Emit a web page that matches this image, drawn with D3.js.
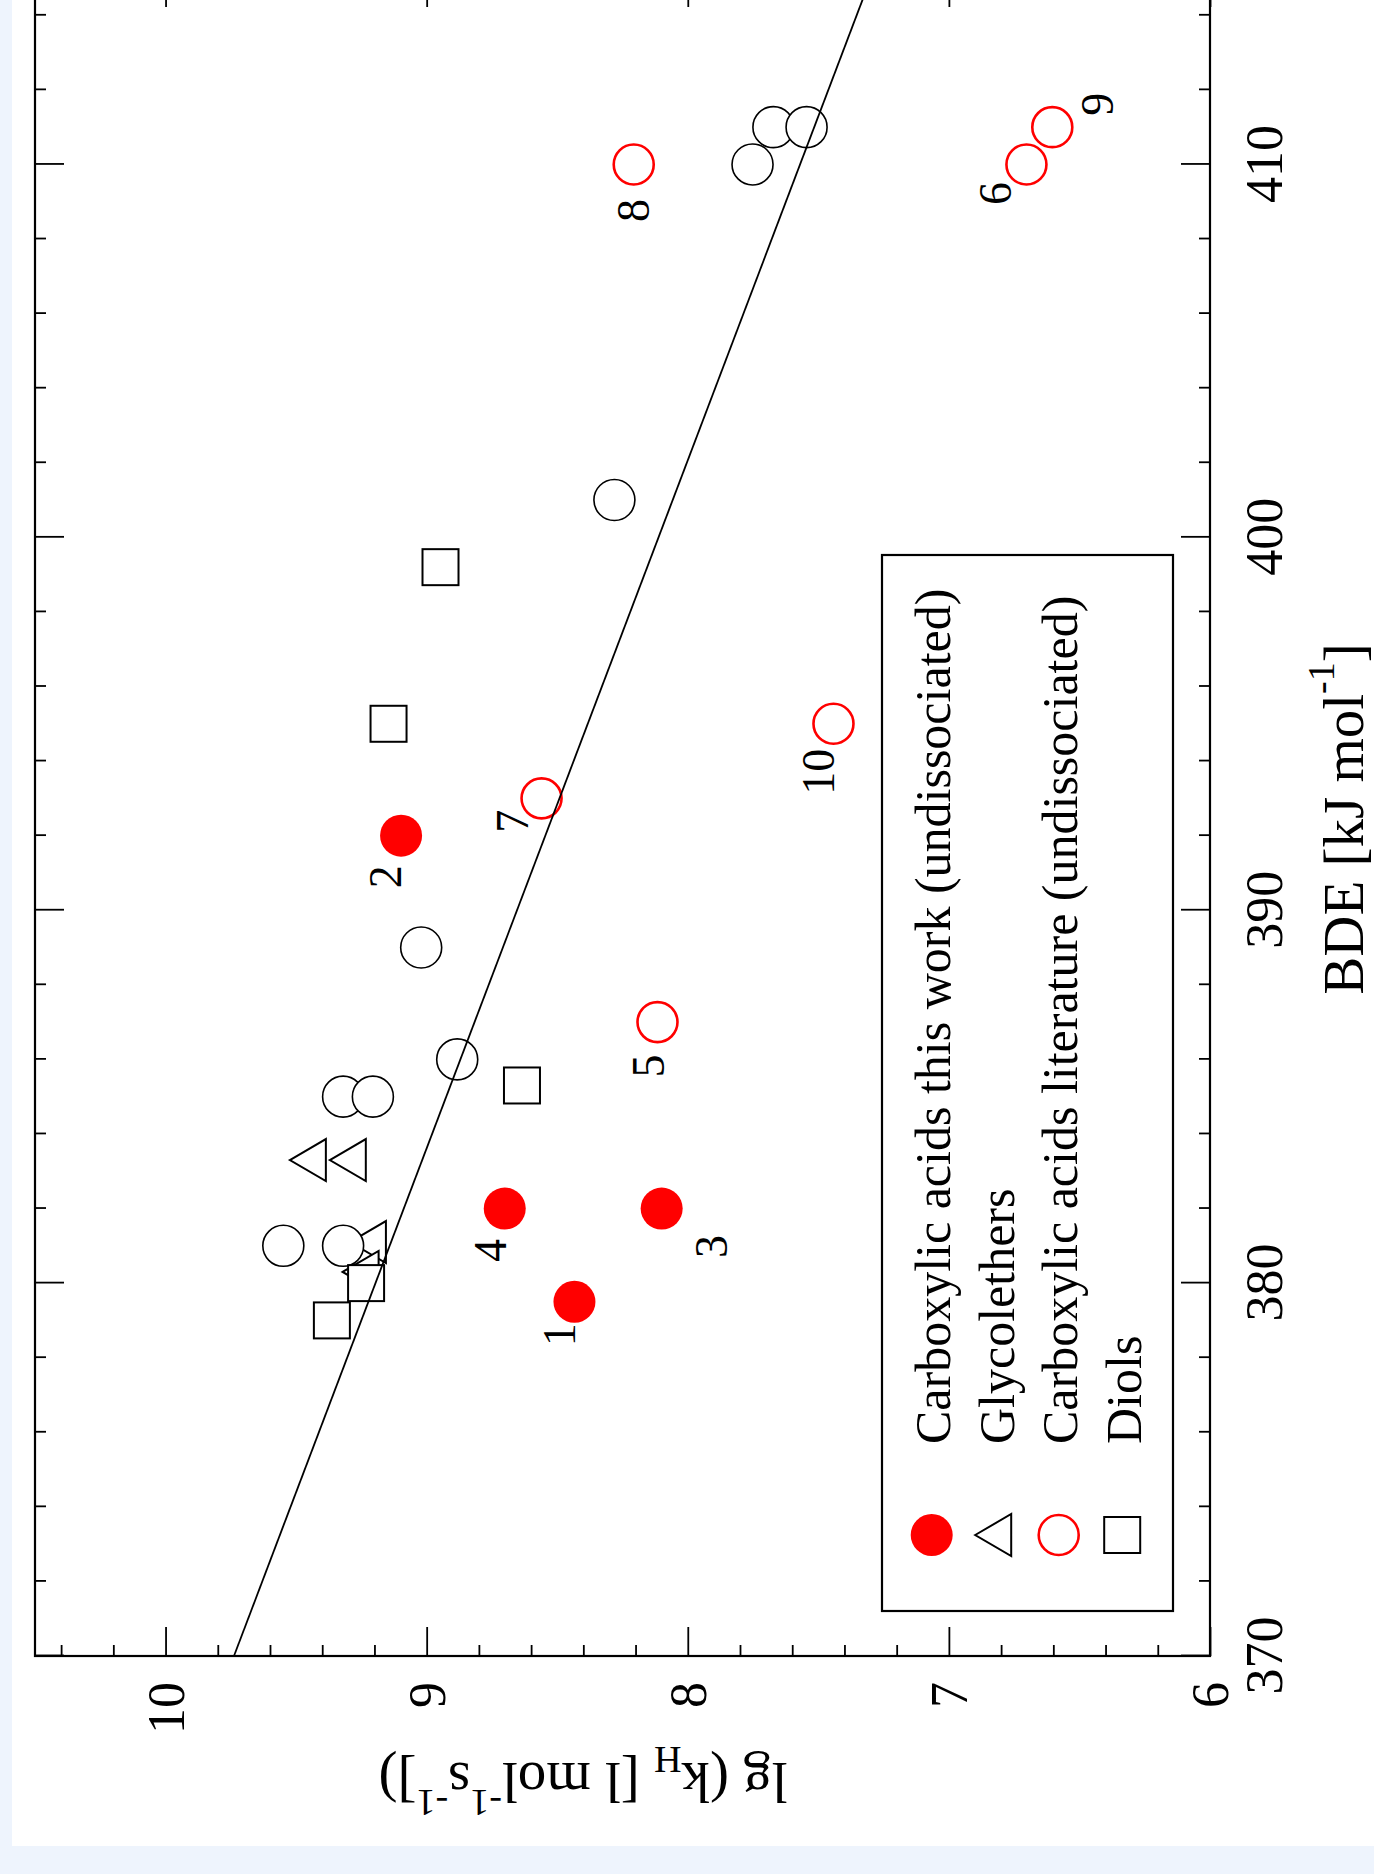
<!DOCTYPE html>
<html><head><meta charset="utf-8">
<script src="https://cdn.jsdelivr.net/npm/d3@7"></script>
<style>
html,body{margin:0;padding:0;background:#eef4fd;}
svg{display:block;}
</style></head><body>
<svg id="chart" width="1374" height="1874"></svg>
<script>
// ---------- data ----------
const legendNames = ["Carboxylic acids this work (undissociated)", "Glycolethers", "Carboxylic acids literature (undissociated)", "Diols"];

const workLabels = ["1", "2", "3", "4"];
const workBDE    = [379.5, 392.0, 382.0, 382.0];
const workLg     = [8.434, 9.098, 8.100, 8.701];

const litLabels  = ["5", "6", "7", "8", "9", "10"];
const litBDE     = [387.0, 410.0, 393.0, 410.0, 411.0, 395.0];
const litLg      = [8.116, 6.703, 8.560, 8.207, 6.604, 7.442];

const glycolBDE  = [383.3, 383.3, 381.1, 380.3];
const glycolLg   = [9.455, 9.302, 9.225, 9.253];

const diolBDE    = [380.0, 379.0, 385.3, 395.0, 399.2];
const diolLg     = [9.232, 9.363, 8.635, 9.146, 8.947];

const otherBDE   = [381.0, 381.0, 385.0, 385.0, 386.0, 389.0, 401.0, 410.0, 411.0, 411.0];
const otherLg    = [9.549, 9.320, 9.320, 9.206, 8.883, 9.021, 8.281, 7.752, 7.672, 7.545];

const fitBDE     = [370, 415];
const fitLg      = [9.738, 7.299];

const bdeMajor   = [370, 380, 390, 400, 410];
const bdeMinor   = [372, 374, 376, 378, 382, 384, 386, 388, 392, 394, 396, 398, 402, 404, 406, 408, 412, 414];
const lgMajor    = [10, 9, 8, 7, 6];
const lgMinor    = [10.4, 10.2, 9.8, 9.6, 9.4, 9.2, 8.8, 8.6, 8.4, 8.2, 7.8, 7.6, 7.4, 7.2, 6.8, 6.6, 6.4, 6.2];

// label placement (pixel offsets from the point, layout only)
const labelOffset = {"1":[-33,-15],"2":[-41,-16],"3":[-38,50],"4":[-42,-14],"5":[-44,-9],
                     "6":[-29,-31],"7":[-23,-29],"8":[-46,0],"9":[23,45],"10":[-48,-15]};

// ---------- layout ----------
const FONT = '"Liberation Serif","Times New Roman",serif';
const W = 1374, H = 1874;
const svg = d3.select("#chart");
svg.append("rect").attr("width", W).attr("height", H).attr("fill", "#eef4fd");
svg.append("rect").attr("x", 12).attr("y", 0).attr("width", W - 12).attr("height", 1846).attr("fill", "#ffffff");

const plotW = 1678, plotH = 1175;
// whole chart is drawn in normal orientation, then rotated -90°
const g = svg.append("g").attr("transform", "translate(35,1656) rotate(-90)");

const x = d3.scaleLinear().domain([370, 415]).range([0, plotW]);
const y = d3.scaleLinear().domain([10.5, 6]).range([0, plotH]);

function styleAxis(sel, fs) {
  sel.attr("font-family", FONT).attr("font-size", fs);
  sel.select(".domain").remove();
  sel.selectAll(".tick line").attr("stroke", "#000").attr("stroke-width", 1.8);
  sel.selectAll(".tick text").attr("fill", "#000");
}

// bottom (BDE) axis
const xb = g.append("g").attr("transform", `translate(0,${plotH})`)
  .call(d3.axisBottom(x).tickValues(bdeMajor).tickSize(-29).tickSizeOuter(0).tickPadding(35).tickFormat(d3.format("d")));
styleAxis(xb, 52);
const xbm = g.append("g").attr("transform", `translate(0,${plotH})`)
  .call(d3.axisBottom(x).tickValues(bdeMinor).tickSize(-11).tickSizeOuter(0).tickFormat(""));
styleAxis(xbm, 52);
// top axis (ticks only)
styleAxis(g.append("g").call(d3.axisTop(x).tickValues(bdeMajor).tickSize(-29).tickSizeOuter(0).tickFormat("")), 52);
styleAxis(g.append("g").call(d3.axisTop(x).tickValues(bdeMinor).tickSize(-11).tickSizeOuter(0).tickFormat("")), 52);

// left (lg) axis
const yl = g.append("g")
  .call(d3.axisLeft(y).tickValues(lgMajor).tickSize(-29).tickSizeOuter(0).tickPadding(26).tickFormat(d3.format("d")));
styleAxis(yl, 52);
yl.selectAll(".tick text").attr("dy", "0.34em");
styleAxis(g.append("g").call(d3.axisLeft(y).tickValues(lgMinor).tickSize(-11).tickSizeOuter(0).tickFormat("")), 52);
// right axis (ticks only)
styleAxis(g.append("g").attr("transform", `translate(${plotW},0)`)
  .call(d3.axisRight(y).tickValues(lgMajor).tickSize(-29).tickSizeOuter(0).tickFormat("")), 52);
styleAxis(g.append("g").attr("transform", `translate(${plotW},0)`)
  .call(d3.axisRight(y).tickValues(lgMinor).tickSize(-11).tickSizeOuter(0).tickFormat("")), 52);

// ---------- markers ----------
const triPath = "M0,-18L21,18L-21,18Z";
const R = 20.5, SQ = 36;

const glycol = glycolBDE.map((b, i) => ({bde: b, lg: glycolLg[i]}));
const diols  = diolBDE.map((b, i) => ({bde: b, lg: diolLg[i]}));
const other  = otherBDE.map((b, i) => ({bde: b, lg: otherLg[i]}));
const lit    = litBDE.map((b, i) => ({bde: b, lg: litLg[i], label: litLabels[i]}));
const work   = workBDE.map((b, i) => ({bde: b, lg: workLg[i], label: workLabels[i]}));

g.append("g").selectAll("path").data(glycol).join("path")
  .attr("d", triPath).attr("transform", d => `translate(${x(d.bde)},${y(d.lg)})`)
  .attr("fill", "#fff").attr("stroke", "#000").attr("stroke-width", 2);

g.append("g").selectAll("circle").data(other).join("circle")
  .attr("cx", d => x(d.bde)).attr("cy", d => y(d.lg)).attr("r", R)
  .attr("fill", "#fff").attr("stroke", "#000").attr("stroke-width", 1.6);

g.append("g").selectAll("rect").data(diols).join("rect")
  .attr("x", d => x(d.bde) - SQ / 2).attr("y", d => y(d.lg) - SQ / 2)
  .attr("width", SQ).attr("height", SQ)
  .attr("fill", "#fff").attr("stroke", "#000").attr("stroke-width", 2);

g.append("g").selectAll("circle").data(lit).join("circle")
  .attr("cx", d => x(d.bde)).attr("cy", d => y(d.lg)).attr("r", R - 0.5)
  .attr("fill", "#fff").attr("stroke", "#ff0000").attr("stroke-width", 2.6);

g.append("g").selectAll("circle").data(work).join("circle")
  .attr("cx", d => x(d.bde)).attr("cy", d => y(d.lg)).attr("r", R + 0.5)
  .attr("fill", "#ff0000").attr("stroke", "none");

// regression line
const fit = fitBDE.map((b, i) => ({bde: b, lg: fitLg[i]}));
g.append("path").datum(fit)
  .attr("d", d3.line().x(d => x(d.bde)).y(d => y(d.lg)))
  .attr("fill", "none").attr("stroke", "#000").attr("stroke-width", 1.8);

// point labels
g.append("g").selectAll("text").data(work.concat(lit)).join("text")
  .attr("x", d => x(d.bde) + labelOffset[d.label][0])
  .attr("y", d => y(d.lg) + labelOffset[d.label][1])
  .attr("dy", "0.34em").attr("text-anchor", "middle")
  .attr("font-family", FONT).attr("font-size", 46).attr("fill", "#000")
  .text(d => d.label);

// frame
g.append("rect").attr("x", 0).attr("y", 0).attr("width", plotW).attr("height", plotH)
  .attr("fill", "none").attr("stroke", "#000").attr("stroke-width", 2.2);

// ---------- legend ----------
const leg = g.append("g");
leg.append("rect").attr("x", 45).attr("y", 847).attr("width", 1056).attr("height", 291)
  .attr("fill", "#fff").attr("stroke", "#000").attr("stroke-width", 2.2);
const rowY = i => 896.7 + i * 63.5;
const symX = 121;
leg.append("circle").attr("cx", symX).attr("cy", rowY(0)).attr("r", R + 0.5).attr("fill", "#ff0000");
leg.append("path").attr("d", triPath).attr("transform", `translate(${symX},${rowY(1) - 2})`)
  .attr("fill", "#fff").attr("stroke", "#000").attr("stroke-width", 2);
leg.append("circle").attr("cx", symX).attr("cy", rowY(2)).attr("r", R - 0.5)
  .attr("fill", "#fff").attr("stroke", "#ff0000").attr("stroke-width", 2.6);
leg.append("rect").attr("x", symX - SQ / 2).attr("y", rowY(3) - SQ / 2).attr("width", SQ).attr("height", SQ)
  .attr("fill", "#fff").attr("stroke", "#000").attr("stroke-width", 2);
leg.selectAll("text.lt").data(legendNames).join("text").attr("class", "lt")
  .attr("x", 212).attr("y", (d, i) => rowY(i) + 18.3)
  .attr("font-family", FONT).attr("font-size", 50).attr("fill", "#000")
  .text(d => d);

// ---------- axis titles ----------
const xt = g.append("text").attr("x", plotW / 2 - 2).attr("y", 1328)
  .attr("text-anchor", "middle").attr("font-family", FONT).attr("font-size", 57).attr("fill", "#000");
xt.append("tspan").text("BDE [kJ mol");
xt.append("tspan").attr("font-size", 38).attr("dy", -29).text("-1");
xt.append("tspan").attr("dy", 29).text("]");

const yt = g.append("text").attr("transform", "translate(-107,548) rotate(-90)")
  .attr("text-anchor", "middle").attr("font-family", FONT).attr("font-size", 57).attr("fill", "#000");
yt.append("tspan").text("lg (k");
yt.append("tspan").attr("font-size", 38).attr("dy", 16).text("H");
yt.append("tspan").attr("dy", -16).text(" [l mol");
yt.append("tspan").attr("font-size", 38).attr("dy", -27).text("-1");
yt.append("tspan").attr("dy", 27).text("s");
yt.append("tspan").attr("font-size", 38).attr("dy", -27).text("-1");
yt.append("tspan").attr("dy", 27).text("])");
</script>
</body></html>
